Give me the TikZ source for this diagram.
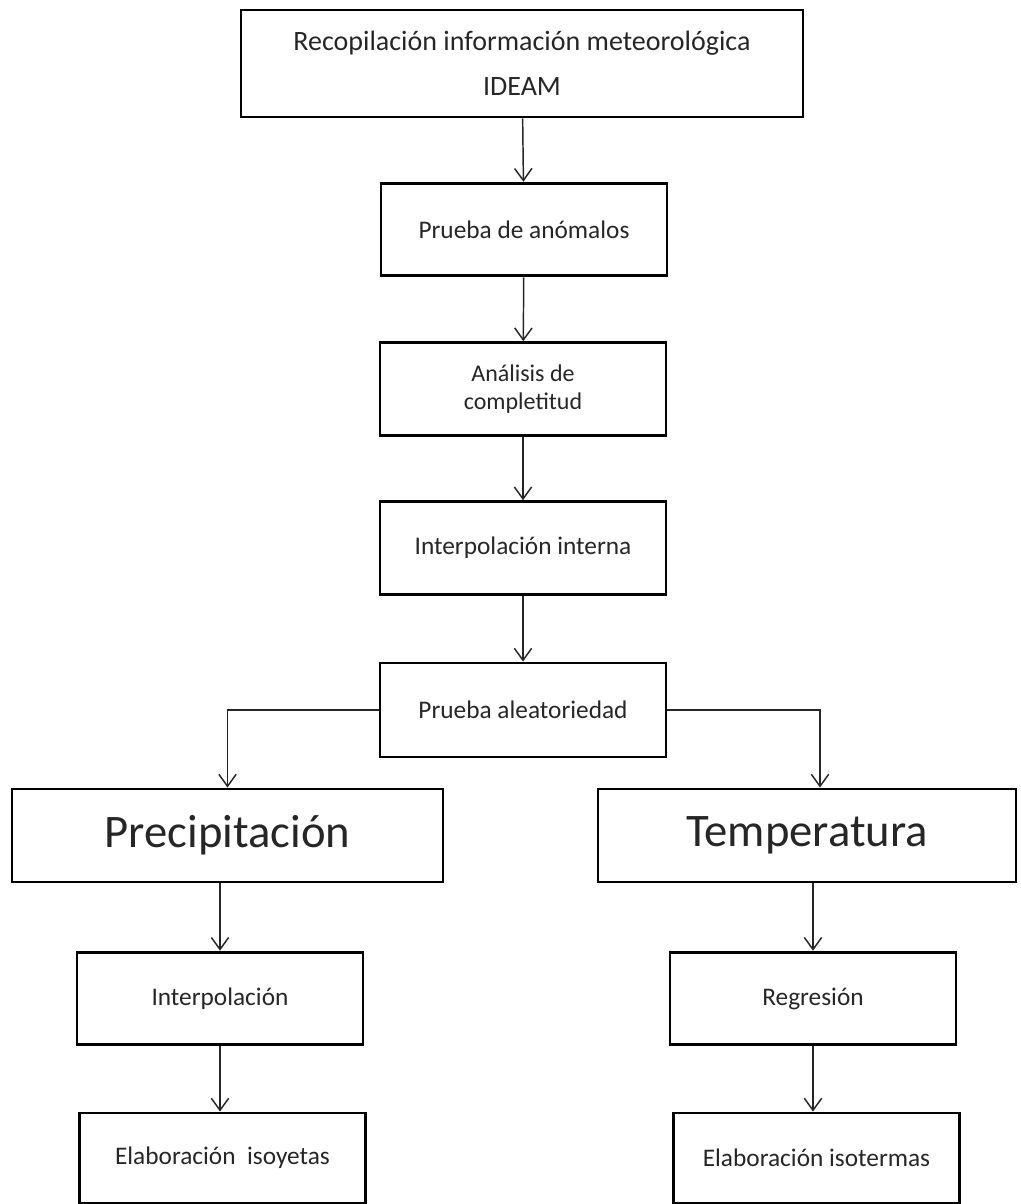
\documentclass[tikz,border=0pt]{standalone}
\usepackage{fontspec}
\setmainfont{Carlito}
\usetikzlibrary{arrows.meta}

\begin{document}
\begin{tikzpicture}[x=0.75pt,y=-0.75pt,
	box/.style={draw=black,line width=2.2pt,inner sep=0pt,text=black!85,align=center,
		font=\fontsize{19}{21}\selectfont,minimum width=214.5pt,minimum height=69.5pt},
	big/.style={box,font=\fontsize{35}{40}\selectfont,minimum height=69.75pt},
	arr/.style={draw=black!85,line width=1.1pt,-{Straight Barb[length=9pt,width=13pt]}}]
	\useasboundingbox (0,0) rectangle (1021,1204);

	% central column
	\node[box,minimum width=421.5pt,minimum height=80.25pt,font=\fontsize{21}{34}\selectfont]
		(recop) at (522,63.5) {Recopilación información meteorológica\\IDEAM};
	\node[box] (anom) at (524,229.5) {Prueba de anómalos};
	\node[box,font=\fontsize{18}{21}\selectfont] (compl) at (523,389) {Análisis de\\completitud};
	\node[box] (inter) at (523,548) {Interpolación interna};
	\node[box,minimum height=70.5pt] (aleat) at (523,710) {Prueba aleatoriedad};

	% two branches
	\node[big,minimum width=323.25pt] (precip) at (227.5,835.5) {Precipitación};
	\node[big,minimum width=313.5pt] (temp) at (807,835.5) {Temperatura};

	\node[box] (interp) at (220,998.5) {Interpolación};
	\node[box] (regr) at (813,998.5) {Regresión};
	\node[box,minimum height=67.5pt] (isoy) at (222.5,1158) {Elaboración~~isoyetas};
	\node[box,minimum height=67.5pt] (isot) at (816.5,1158) {Elaboración isotermas};

	\coordinate (tbend) at (820,708);

	\draw[arr] (recop) -- (anom);
	\draw[arr] (anom) -- (compl);
	\draw[arr] (compl) -- (inter);
	\draw[arr] (inter) -- (aleat);
	\draw[arr] (aleat.west) -| (precip.north);
	\draw[arr] (aleat.east) -| (tbend |- temp.north);
	\draw[arr] (precip.south -| interp.north) -- (interp.north);
	\draw[arr] (temp.south -| regr.north) -- (regr.north);
	\draw[arr] (interp.south) -- (interp.south |- isoy.north);
	\draw[arr] (regr.south) -- (regr.south |- isot.north);
\end{tikzpicture}
\end{document}
